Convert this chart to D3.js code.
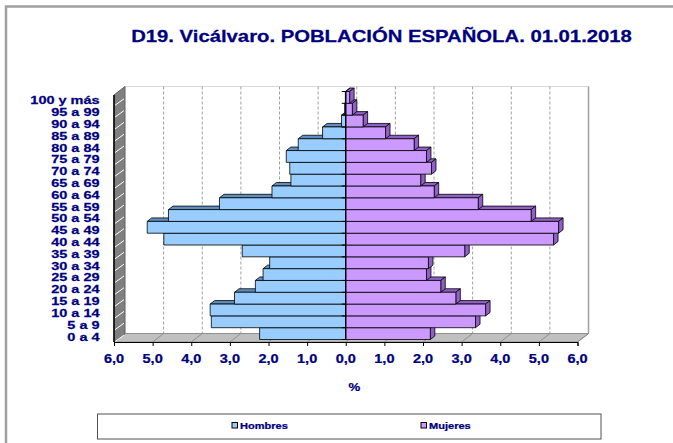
<!DOCTYPE html>
<html><head><meta charset="utf-8">
<script src="https://cdn.jsdelivr.net/npm/d3@7"></script>
<style>html,body{margin:0;padding:0;background:#fff;}svg{display:block;}</style>
</head><body>
<svg id="c" width="673" height="443"></svg>
<script>
const categories = ['100 y más','95 a 99','90 a 94','85 a 89','80 a 84','75 a 79','70 a 74','65 a 69','60 a 64','55 a 59','50 a 54','45 a 49','40 a 44','35 a 39','30 a 34','25 a 29','20 a 24','15 a 19','10 a 14','5 a 9','0 a 4'];
const hombres = [0.01,0.03,0.11,0.60,1.23,1.54,1.45,1.42,1.91,3.27,4.59,5.14,4.71,2.68,1.97,2.14,2.34,2.88,3.51,3.48,2.23];
const mujeres = [0.10,0.17,0.45,1.03,1.77,2.09,2.22,1.94,2.29,3.43,4.80,5.51,5.38,3.08,2.14,2.09,2.46,2.85,3.62,3.36,2.19];
const xTicks = [-6,-5,-4,-3,-2,-1,0,1,2,3,4,5,6];
const seriesNames = ['Hombres','Mujeres'];
const title = 'D19. Vicálvaro. POBLACIÓN ESPAÑOLA. 01.01.2018';
const axisTitle = '%';

const colM = '#99CCFF', colMdark = '#5F8FC0';
const colF = '#CC99FF', colFdark = '#9060C8';
const navy = '#000080';
const FONT = '"Liberation Sans", Arial, sans-serif';

const svg = d3.select('#c');
const x = d3.scaleLinear().domain([-6, 6]).range([114, 577.5]);
const y = d3.scaleBand().domain(categories).range([91.5, 339.5]).padding(0);

const floorY = 342, DX = 11, DY = -8.5, topY = 95;
const bdx = 4.5, bdy = -3.5;

function txt(g, s, px, py, size, anchor, sx) {
  return g.append('text').attr('transform', `translate(${px},${py}) scale(${sx},1)`)
    .attr('text-anchor', anchor).attr('dominant-baseline', 'central')
    .attr('font-family', FONT).attr('font-weight', 'bold').attr('font-size', size)
    .attr('fill', navy).attr('stroke', navy).attr('stroke-width', 0.25).text(s);
}

// outer border
svg.append('path').attr('d', 'M6,443 V6.5 H673').attr('fill', 'none').attr('stroke', '#A0A0A0').attr('stroke-width', 2.5);

// back wall
const bx0 = x(-6) + DX, bx1 = x(6) + DX, bTop = topY + DY, bBot = floorY + DY;
svg.append('line').attr('x1', bx0).attr('x2', bx1).attr('y1', bTop).attr('y2', bTop).attr('stroke', '#D8D8D8');
svg.append('line').attr('x1', bx1).attr('x2', bx1).attr('y1', bTop).attr('y2', bBot).attr('stroke', '#A0A0A0').attr('stroke-width', 1.5);
svg.selectAll('.grid').data(xTicks.slice(1, -1)).join('line')
  .attr('x1', d => x(d) + DX).attr('x2', d => x(d) + DX).attr('y1', bTop).attr('y2', bBot)
  .attr('stroke', '#A0A0A0').attr('stroke-dasharray', '3,2');

// floor
svg.append('path').attr('d', `M${x(-6)},${floorY} L${x(6)},${floorY} L${x(6)+DX},${bBot} L${x(-6)+DX},${bBot} Z`)
  .attr('fill', '#C0C0C0').attr('stroke', '#909090');
svg.selectAll('.fl').data(xTicks).join('line')
  .attr('x1', d => x(d)).attr('y1', floorY).attr('x2', d => x(d) + DX).attr('y2', bBot)
  .attr('stroke', '#909090');

// left wall
svg.append('path').attr('d', `M${x(-6)},${floorY} L${x(-6)},${topY} L${x(-6)+DX},${bTop} L${x(-6)+DX},${bBot} Z`)
  .attr('fill', '#808080').attr('stroke', '#606060');
const bounds = categories.map(c => y(c)).concat([y.range()[1]]);
svg.selectAll('.wl').data(bounds.slice(1)).join('line')
  .attr('x1', x(-6) + 1).attr('y1', d => d + 2).attr('x2', x(-6) + DX - 1).attr('y2', d => d + 2 + DY + 2)
  .attr('stroke', '#fff').attr('stroke-width', 1);
svg.append('line').attr('x1', x(-6)).attr('x2', x(-6)).attr('y1', topY).attr('y2', floorY).attr('stroke', '#000').attr('stroke-width', 1.5);

// bars (bottom row first)
const gb = svg.append('g').attr('stroke', '#000').attr('stroke-width', 0.8).attr('stroke-linejoin', 'round');
for (let i = categories.length - 1; i >= 0; i--) {
  const c = categories[i], y0 = y(c), h = y.bandwidth();
  let x0 = x(-hombres[i]), x1 = x(0);
  gb.append('path').attr('d', `M${x0},${y0} L${x1},${y0} L${x1+bdx},${y0+bdy} L${x0+bdx},${y0+bdy} Z`).attr('fill', colMdark);
  gb.append('rect').attr('x', x0).attr('y', y0).attr('width', x1 - x0).attr('height', h).attr('fill', colM);
  x0 = x(0); x1 = x(mujeres[i]);
  gb.append('path').attr('d', `M${x0},${y0} L${x1},${y0} L${x1+bdx},${y0+bdy} L${x0+bdx},${y0+bdy} Z`).attr('fill', colFdark);
  gb.append('path').attr('d', `M${x1},${y0} L${x1},${y0+h} L${x1+bdx},${y0+h+bdy} L${x1+bdx},${y0+bdy} Z`).attr('fill', colFdark);
  gb.append('rect').attr('x', x0).attr('y', y0).attr('width', x1 - x0).attr('height', h).attr('fill', colF);
}

// vertical axis at zero
svg.append('line').attr('x1', x(0)).attr('x2', x(0)).attr('y1', y.range()[0]).attr('y2', y.range()[1]).attr('stroke', '#000').attr('stroke-width', 1.2);
svg.selectAll('.yt').data(bounds).join('line')
  .attr('x1', x(0) - 4).attr('x2', x(0)).attr('y1', d => d).attr('y2', d => d).attr('stroke', '#000');

// x axis
const xa = svg.append('g').attr('transform', `translate(0,${floorY})`)
  .call(d3.axisBottom(x).tickValues(xTicks).tickSize(4).tickFormat(''));
xa.select('.domain').attr('stroke', '#000');
xa.selectAll('.tick line').attr('stroke', '#000');
const fmt = d => d3.format('.1f')(Math.abs(d)).replace('.', ',');
xTicks.forEach(t => txt(svg, fmt(t), x(t), 358.5, 12.3, 'middle', 1.18));

// category labels
categories.forEach(c => txt(svg, c, 99.5, y(c) + y.bandwidth() / 2 + 3, 11.4, 'end', 1.27));

// title
txt(svg, title, 381.5, 36, 16.3, 'middle', 1.245);
// axis title
txt(svg, axisTitle, 354.3, 387.7, 11.5, 'middle', 1.15);

// legend
svg.append('rect').attr('x', 97.5).attr('y', 414).attr('width', 503.5).attr('height', 25)
  .attr('fill', '#fff').attr('stroke', '#505050');
const legX = [232, 421], legC = [colM, colF];
seriesNames.forEach((s, i) => {
  svg.append('rect').attr('x', legX[i]).attr('y', 422.5).attr('width', 5.5).attr('height', 5.5)
    .attr('fill', legC[i]).attr('stroke', '#000').attr('stroke-width', 1);
  txt(svg, s, legX[i] + 8, 425.5, 9.2, 'start', 1.2);
});
</script>
</body></html>
